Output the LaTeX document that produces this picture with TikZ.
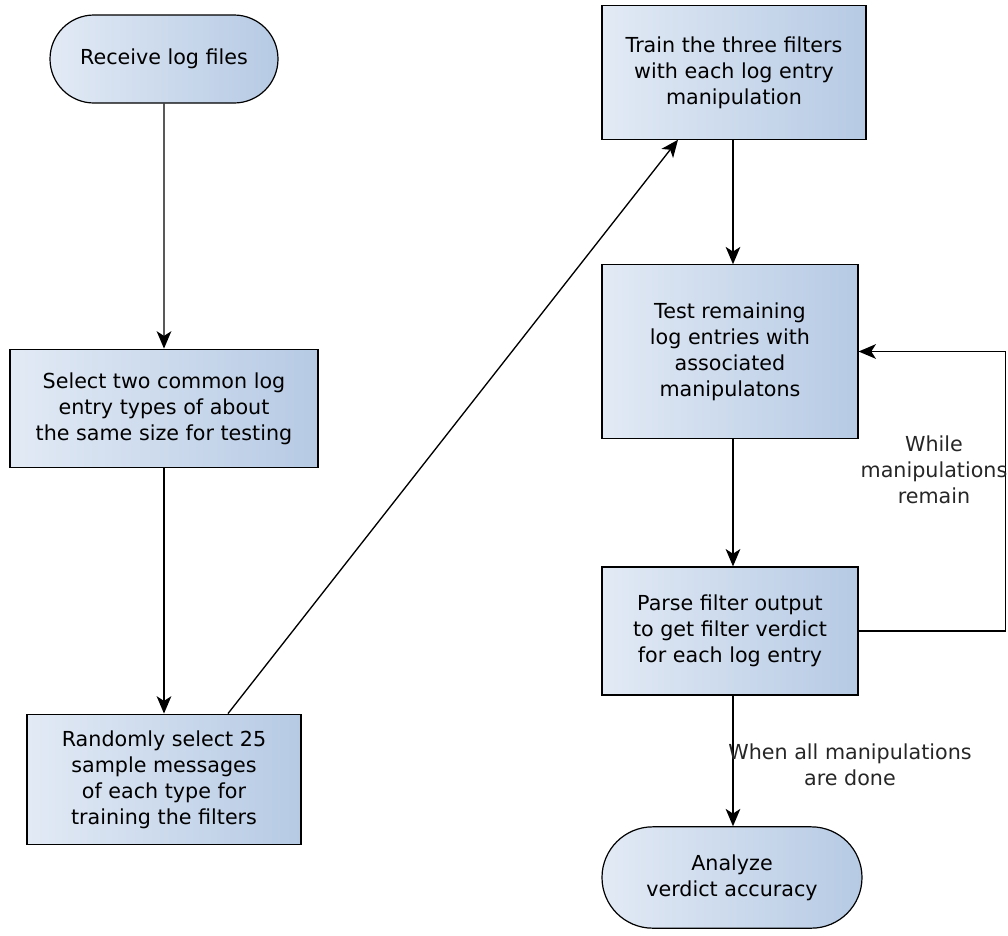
\documentclass[tikz,border=0pt]{standalone}
\usepackage{fontspec}
\setmainfont{DejaVu Sans}
\usepackage{tikz}
\usetikzlibrary{arrows.meta,shapes.misc,calc}

\definecolor{boxleft}{RGB}{226,234,245}
\definecolor{boxright}{RGB}{182,202,228}

\tikzset{
	stepbox/.style={draw=black, line width=0.9pt, rectangle, align=center,
		left color=boxleft, right color=boxright, inner sep=0pt,
		font=\fontsize{15.5pt}{19.5pt}\selectfont},
	endbox/.style={stepbox, rounded rectangle},
	flow/.style={line width=1pt, -{Stealth[length=13pt,width=11pt,inset=3.5pt]}},
	note/.style={align=center, text=black!85, font=\fontsize{15.5pt}{19.5pt}\selectfont}
}

\begin{document}
\begin{tikzpicture}[x=0.75pt,y=-0.75pt]
	\useasboundingbox (0,0) rectangle (1008,936);

	% left column
	\node[endbox, minimum width=171pt, minimum height=66pt] (recv) at (164,59) {Receive log files};
	\node[stepbox, minimum width=231pt, minimum height=89pt] (sel) at (164,408.5)
		{Select two common log\\entry types of about\\the same size for testing};
	\node[stepbox, minimum width=205.5pt, minimum height=98pt] (rand) at (164,779.5)
		{Randomly select 25\\sample messages\\of each type for\\training the filters};

	% right column
	\node[stepbox, minimum width=198pt, minimum height=100pt] (train) at (734,72.5)
		{Train the three filters\\with each log entry\\manipulation};
	\node[stepbox, minimum width=192pt, minimum height=130pt] (test) at (730,351.5)
		{Test remaining\\log entries with\\associated\\manipulatons};
	\node[stepbox, minimum width=192pt, minimum height=96pt] (parse) at (730,631)
		{Parse filter output\\to get filter verdict\\for each log entry};
	\node[endbox, minimum width=195pt, minimum height=76pt] (anlz) at (732,877.5)
		{Analyze\\verdict accuracy};

	% connectors
	\draw[flow] (recv) -- (sel);
	\draw[flow] (sel) -- (rand);
	\draw[flow] ($(rand.north)+(64,0)$) -- ($(train.south)+(-56,0)$);
	\draw[flow] ($(train.south)+(-1,0)$) -- ($(test.north)+(3,0)$);
	\draw[flow] ($(test.south)+(3,0)$) -- ($(parse.north)+(3,0)$);
	\draw[flow] ($(parse.south)+(3,0)$) -- ($(anlz.north)+(1,0)$);
	\draw[flow] (parse.east) -- ++(147,0) |- (test.east);

	% labels
	\node[note] (l1) at (934,470) {While\\manipulations\\remain};
	\node[note] (l2) at (850,765) {When all manipulations\\are done};
\end{tikzpicture}
\end{document}
